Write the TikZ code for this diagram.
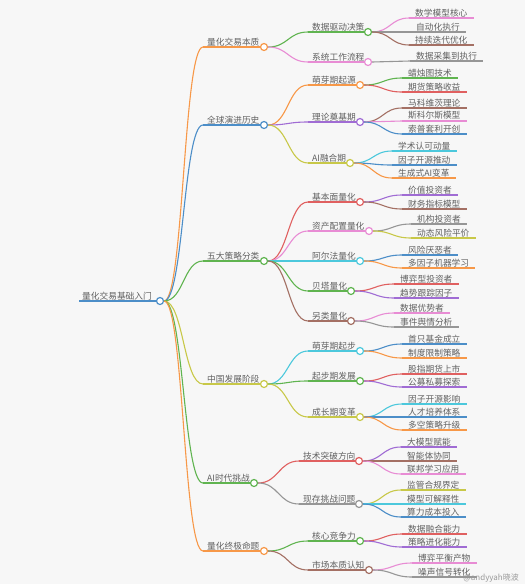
\documentclass[tikz,border=0pt]{standalone}
\usepackage{fontspec}
\newfontfamily\cjk{Noto Sans CJK SC}
\usetikzlibrary{calc}
\definecolor{bggray}{RGB}{247,247,247}
\definecolor{txtgray}{RGB}{96,96,96}
\definecolor{morange}{RGB}{247,152,72}
\definecolor{mblue}{RGB}{76,142,200}
\definecolor{mgreen}{RGB}{96,180,80}
\definecolor{molive}{RGB}{200,200,72}
\definecolor{mred}{RGB}{224,96,96}
\definecolor{mpink}{RGB}{232,140,212}
\definecolor{mpurple}{RGB}{160,108,212}
\definecolor{mbrown}{RGB}{164,112,100}
\definecolor{mgray}{RGB}{150,150,150}
\definecolor{mcyan}{RGB}{76,200,220}

% S-shaped connector between two points
\newcommand{\link}[3]{%
  \path ($(#2)!.5!(#3)$) coordinate (mid);
  \draw[edge, #1] (#2) .. controls (mid |- #2) and (mid |- #3) .. (#3);}
% topic with underline and end circle
\newcommand{\topic}[7]{%
  \node[lbl] (#3) at (#4,#5) {#7};
  \node[dot=#1] (#3-dot) at (#6,#5) {};
  \draw[edge, #1] (#3.south west) -- (#3-dot);
  \link{#1}{#2-dot.east}{#3.south west}}
% leaf with underline only
\newcommand{\leafnode}[6]{%
  \node[leaf] (#3) at (#4,#5) {#6};
  \draw[edge, #1] (#3.south west) -- (#3.south east);
  \link{#1}{#2-dot.east}{#3.south west}}

\begin{document}
\begin{tikzpicture}[x=1pt, y=-1pt,
    lbl/.style={anchor=south west, inner xsep=4pt, inner ysep=1pt, text=txtgray,
      font=\cjk\fontsize{8.7}{10}\selectfont},
    leaf/.style={lbl, inner xsep=6pt},
    dot/.style={circle, draw=#1, fill=white, line width=1.2pt, minimum size=7pt, inner sep=0pt},
    edge/.style={line width=1.1pt}]
    % Background
    \fill[bggray] (0,0) rectangle (525,584);
    \useasboundingbox (0,0) rectangle (525,584);

    % Root
    \node[lbl, inner xsep=3pt] (root) at (79,301) {量化交易基础入门};
    \node[dot=mblue] (root-dot) at (160,301) {};
    \draw[edge, mblue] (root.south west) -- (root-dot);

    % Main branches
    \topic{morange}{root}{ess}{203}{47}{264}{量化交易本质}
    \topic{mblue}{root}{hist}{203}{125}{264}{全球演进历史}
    \topic{mgreen}{root}{strat}{203}{261}{264}{五大策略分类}
    \topic{molive}{root}{china}{203}{384}{264}{中国发展阶段}
    \topic{mgreen}{root}{aich}{203}{483}{254}{AI时代挑战}
    \topic{morange}{root}{ult}{203}{551}{264}{量化终极命题}

    % Essence
    \topic{mgreen}{ess}{data}{308}{32}{368}{数据驱动决策}
    \topic{mpink}{ess}{flow}{308}{62}{368}{系统工作流程}
    \leafnode{mpink}{data}{data1}{409}{18}{数学模型核心}
    \leafnode{mgray}{data}{data2}{410}{32}{自动化执行}
    \leafnode{mbrown}{data}{data3}{409}{45}{持续迭代优化}
    \leafnode{mgray}{flow}{flow1}{410}{61}{数据采集到执行}

    % History
    \topic{morange}{hist}{bud}{308}{85}{360}{萌芽期起源}
    \topic{mpurple}{hist}{theo}{308}{122}{360}{理论奠基期}
    \topic{molive}{hist}{aifu}{308}{163}{350}{AI融合期}
    \leafnode{mgreen}{bud}{bud1}{402}{78}{蜡烛图技术}
    \leafnode{mred}{bud}{bud2}{402}{92}{期货策略收益}
    \leafnode{mbrown}{theo}{theo1}{402}{108}{马科维茨理论}
    \leafnode{mpink}{theo}{theo2}{402}{121}{斯科尔斯模型}
    \leafnode{mblue}{theo}{theo3}{402}{134}{索普套利开创}
    \leafnode{mcyan}{aifu}{aifu1}{392}{151}{学术认可动量}
    \leafnode{mblue}{aifu}{aifu2}{392}{165}{因子开源推动}
    \leafnode{morange}{aifu}{aifu3}{392}{178}{生成式AI变革}

    % Strategies
    \topic{mred}{strat}{fund}{308}{202}{360}{基本面量化}
    \topic{mpink}{strat}{alloc}{308}{231}{369}{资产配置量化}
    \topic{mcyan}{strat}{alpha}{308}{261}{360}{阿尔法量化}
    \topic{mgreen}{strat}{beta}{308}{291}{351}{贝塔量化}
    \topic{mbrown}{strat}{alt}{308}{321}{351}{另类量化}
    \leafnode{mpurple}{fund}{fund1}{402}{195}{价值投资者}
    \leafnode{mbrown}{fund}{fund2}{402}{209}{财务指标模型}
    \leafnode{mgray}{alloc}{alloc1}{411}{224}{机构投资者}
    \leafnode{molive}{alloc}{alloc2}{411}{238}{动态风险平价}
    \leafnode{mblue}{alpha}{alpha1}{402}{255}{风险厌恶者}
    \leafnode{morange}{alpha}{alpha2}{402}{268}{多因子机器学习}
    \leafnode{mred}{beta}{beta1}{394}{284}{博弈型投资者}
    \leafnode{mpurple}{beta}{beta2}{394}{298}{趋势跟踪因子}
    \leafnode{mpink}{alt}{alt1}{394}{313}{数据优势者}
    \leafnode{mgray}{alt}{alt2}{394}{327}{事件舆情分析}

    % China
    \topic{mcyan}{china}{cna}{308}{351}{360}{萌芽期起步}
    \topic{mgreen}{china}{cnb}{308}{381}{360}{起步期发展}
    \topic{molive}{china}{cnc}{308}{417}{360}{成长期变革}
    \leafnode{mblue}{cna}{cna1}{402}{344}{首只基金成立}
    \leafnode{morange}{cna}{cna2}{402}{358}{制度限制策略}
    \leafnode{mred}{cnb}{cnb1}{402}{374}{股指期货上市}
    \leafnode{mpurple}{cnb}{cnb2}{402}{387}{公募私募探索}
    \leafnode{mcyan}{cnc}{cnc1}{402}{404}{因子开源影响}
    \leafnode{mblue}{cnc}{cnc2}{402}{417}{人才培养体系}
    \leafnode{morange}{cnc}{cnc3}{402}{430}{多空策略升级}

    % AI challenges
    \topic{mred}{aich}{tech}{299}{461}{359}{技术突破方向}
    \topic{mgray}{aich}{prob}{299}{504}{359}{现存挑战问题}
    \leafnode{mpurple}{tech}{tech1}{401}{447}{大模型赋能}
    \leafnode{mbrown}{tech}{tech2}{401}{461}{智能体协同}
    \leafnode{mpink}{tech}{tech3}{401}{474}{联邦学习应用}
    \leafnode{molive}{prob}{prob1}{401}{490}{监管合规界定}
    \leafnode{mcyan}{prob}{prob2}{401}{504}{模型可解释性}
    \leafnode{mblue}{prob}{prob3}{401}{517}{算力成本投入}

    % Ultimate
    \topic{mgreen}{ult}{core}{308}{541}{360}{核心竞争力}
    \topic{mbrown}{ult}{mkt}{308}{570}{369}{市场本质认知}
    \leafnode{mred}{core}{core1}{402}{534}{数据融合能力}
    \leafnode{mpurple}{core}{core2}{402}{547}{策略进化能力}
    \leafnode{mpink}{mkt}{mkt1}{412}{563}{博弈平衡产物}
    \leafnode{mgray}{mkt}{mkt2}{412}{577}{噪声信号转化}

    % Watermark
    \node[anchor=base east, inner sep=0pt, text=black!40,
      font=\cjk\fontsize{8}{9}\selectfont] (mark) at (519,580) {@andyyah晓波};
\end{tikzpicture}
\end{document}
